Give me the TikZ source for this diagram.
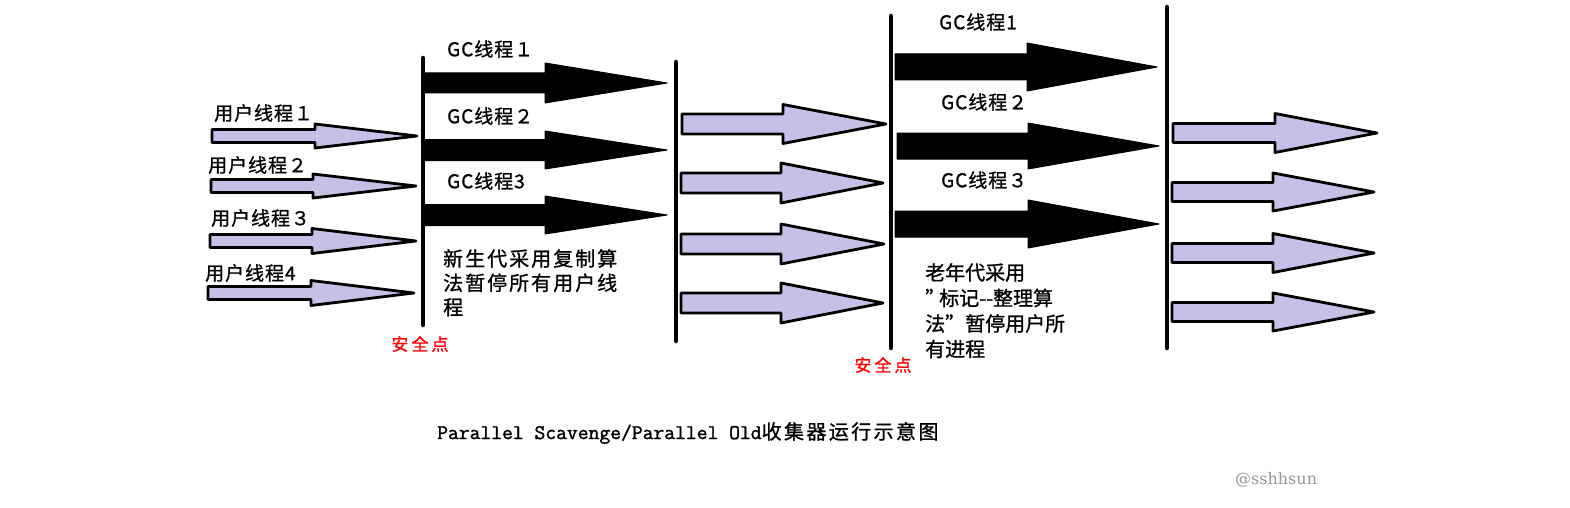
\documentclass[tikz,border=0pt]{standalone}
\usepackage{fontspec}
\newfontfamily\cjk{Noto Sans CJK SC}[FakeBold=1]
\newfontfamily\monofont{Latin Modern Mono}[FakeBold=1.5]
\newfontfamily\sigfont{DejaVu Serif}
\definecolor{lav}{RGB}{200,191,231}
\definecolor{sig}{RGB}{150,150,150}
\newcommand\thread[7]{%
  \draw[#1] (#2,{#5-#6/2}) -- (#3,{#5-#6/2}) -- (#3,{#5-#7/2}) -- (#4,#5)
    -- (#3,{#5+#7/2}) -- (#3,{#5+#6/2}) -- (#2,{#5+#6/2}) -- cycle;}
\begin{document}
\begin{tikzpicture}[x=1pt,y=-1pt,
  userarrow/.style={draw=black,line width=2.8pt,fill=lav,line join=round},
  gcarrow/.style={draw=black,fill=black,line width=1pt,line join=round},
  bar/.style={line width=4.5pt,line cap=round},
  lbl/.style={inner sep=0,anchor=west,font=\cjk\fontsize{19}{22}\selectfont\addfontfeature{LetterSpace=5}},
  note/.style={inner sep=0,anchor=north west,align=left},
  safe/.style={inner sep=0,text=red,font=\cjk\fontsize{17}{20}\selectfont\addfontfeature{LetterSpace=18}}]
\useasboundingbox[fill=white] (0,0) rectangle (1570,508);
% safe-point bars
\draw[bar] (423,58) -- (423,325);
\draw[bar] (676,62) -- (676,341);
\draw[bar] (891,16) -- (891,348);
\draw[bar] (1167,7) -- (1167,348);
% user threads, first run
\thread{userarrow}{212}{315}{417}{136}{13}{24}
\thread{userarrow}{211}{313}{416}{186}{13}{24}
\thread{userarrow}{210}{312}{416}{241}{13}{25}
\thread{userarrow}{208}{311}{414}{293}{13}{25}
% young GC threads
\thread{gcarrow}{425}{545}{667}{83}{20}{40}
\thread{gcarrow}{425}{545}{667}{150}{21}{38}
\thread{gcarrow}{425}{545}{667}{215}{21}{38}
% user threads, second run
\thread{userarrow}{682}{783}{886}{124}{20}{39}
\thread{userarrow}{681}{781}{883}{183}{20}{40}
\thread{userarrow}{681}{781}{884}{244}{20}{40}
\thread{userarrow}{681}{781}{883}{303}{20}{40}
% old GC threads
\thread{gcarrow}{895}{1027}{1157}{67}{26}{48}
\thread{gcarrow}{897}{1028}{1159}{146}{26}{46}
\thread{gcarrow}{895}{1028}{1159}{224}{26}{48}
% user threads, third run
\thread{userarrow}{1173}{1275}{1377}{133}{19}{39}
\thread{userarrow}{1172}{1273}{1374}{192}{19}{38}
\thread{userarrow}{1172}{1273}{1374}{253}{19}{39}
\thread{userarrow}{1172}{1273}{1374}{312}{19}{38}
% labels
\node[lbl] (u1) at (214,113) {用户线程１};
\node[lbl] (u2) at (208,165) {用户线程２};
\node[lbl] (u3) at (211,218) {用户线程３};
\node[lbl] (u4) at (205,273) {用户线程4};
\node[lbl] (g1) at (447,49) {GC线程１};
\node[lbl] (g2) at (447,116) {GC线程２};
\node[lbl] (g3) at (447,181) {GC线程3};
\node[lbl] (h1) at (939,22) {GC线程1};
\node[lbl] (h2) at (941,102) {GC线程２};
\node[lbl] (h3) at (941,180) {GC线程３};
\node[note,font=\cjk\fontsize{20}{24.3}\selectfont\addfontfeature{LetterSpace=10}] (young) at (443,249)
  {新生代采用复制算\\法暂停所有用户线\\程};
\node[note,font=\cjk\fontsize{20}{25.5}\selectfont] (old) at (925,263)
  {老年代采用\\”\kern-6pt标记--整理算\\法”暂停用户所\\有进程};
\node[safe] (s1) at (420,344) {安全点};
\node[safe] (s2) at (883,365) {安全点};
\node[inner sep=0,anchor=west] (cap) at (437,433)
  {\monofont\fontsize{21}{24}\selectfont Parallel Scavenge/Parallel Old\cjk\fontsize{20}{22}\selectfont\addfontfeature{LetterSpace=12}收集器运行示意图};
\node[inner sep=0,anchor=west,text=sig,font=\sigfont\fontsize{16}{18}\selectfont] (sign) at (1235,480) {@sshhsun};
\end{tikzpicture}
\end{document}
